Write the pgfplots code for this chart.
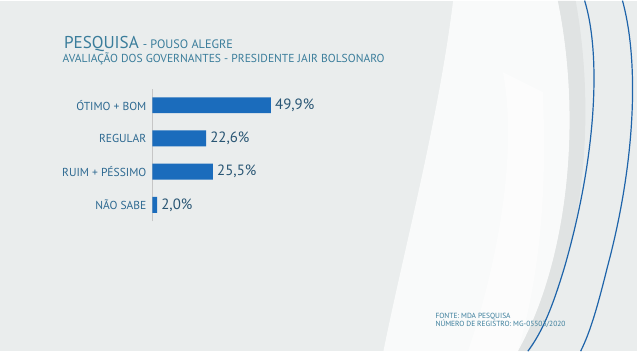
\documentclass[border=0pt]{standalone}
\usepackage{pgfplots}
\pgfplotsset{compat=1.18}
\usepackage{fontspec}
\setmainfont{PT Sans}
\definecolor{bg}{RGB}{234,237,237}
\definecolor{barblue}{RGB}{27,108,188}
\definecolor{titleblue}{RGB}{58,125,155}
\definecolor{labblue}{RGB}{45,105,145}
\definecolor{valblue}{RGB}{40,85,115}
\definecolor{lineblue}{RGB}{30,100,170}
\begin{document}
\begin{tikzpicture}[x=0.75pt,y=0.75pt]
% background
\fill[bg] (0,0) rectangle (640,352);
% white ring-like region on the right
\fill[white,opacity=0.75] (385,0) .. controls (405,100) and (440,230) .. (455,352) -- (560,352) .. controls (585,230) and (570,90) .. (520,0) -- cycle;
\fill[white,opacity=0.5] (470,0) .. controls (500,90) and (520,200) .. (505,280) -- (545,260) .. controls (550,150) and (540,70) .. (520,0) -- cycle;
\fill[black,opacity=0.04] (520,0) .. controls (570,90) and (585,230) .. (560,352) -- (578,352) .. controls (600,230) and (585,90) .. (532,0) -- cycle;
% blue lines
\draw[lineblue,line width=0.9pt] (587,352) .. controls (603,300) and (600,200) .. (567,85) .. controls (555,45) and (545,20) .. (530,0);
\draw[lineblue,line width=0.9pt] (625,352) .. controls (642,290) and (638,190) .. (610,85) .. controls (600,45) and (593,20) .. (583,0);
\useasboundingbox (0,0) rectangle (640,352);
% titles
\node[anchor=base west,inner sep=0pt,text=titleblue] at (64,303.7) {\fontsize{12.9}{15}\selectfont PESQUISA\hspace{3pt}\fontsize{9.2}{11}\selectfont - POUSO ALEGRE};
\node[anchor=base west,inner sep=0pt,text=titleblue] at (62.5,289.5) {\fontsize{8.7}{10}\selectfont AVALIAÇÃO DOS GOVERNANTES - PRESIDENTE JAIR BOLSONARO};
% footer
\node[anchor=base west,inner sep=0pt,text=titleblue] at (437,33.3) {\fontsize{5.6}{7}\selectfont FONTE: MDA PESQUISA};
\node[anchor=base west,inner sep=0pt,text=titleblue] at (437,25) {\fontsize{5.6}{7}\selectfont NÚMERO DE REGISTRO: MG-05503/2020};
\begin{axis}[
  at={(114.75pt,97.7pt)}, anchor=south west,
  scale only axis,
  width=178.9pt, height=100pt,
  xbar, bar width=12pt,
  xmin=0, xmax=100,
  ymin=-0.5, ymax=3.5,
  axis x line=none,
  axis y line*=left,
  y axis line style={draw=gray!45, line width=0.6pt, -},
  ytick={0,1,2,3},
  yticklabels={NÃO SABE, RUIM + PÉSSIMO, REGULAR, ÓTIMO + BOM},
  yticklabel style={text=labblue, font=\fontsize{8.7}{10}\selectfont, xshift=-1pt},
  major tick length=0pt,
  nodes near coords,
  every node near coord/.style={anchor=west, text=valblue, font=\fontsize{11.2}{13}\selectfont, inner sep=2pt, xshift=1pt},
  point meta=explicit symbolic,
  clip=false,
]
\addplot[fill=barblue, draw=none] coordinates {
  (2.0,0) [2,0\%]
  (25.5,1) [25,5\%]
  (22.6,2) [22,6\%]
  (49.9,3) [49,9\%]
};
\end{axis}
\end{tikzpicture}
\end{document}
